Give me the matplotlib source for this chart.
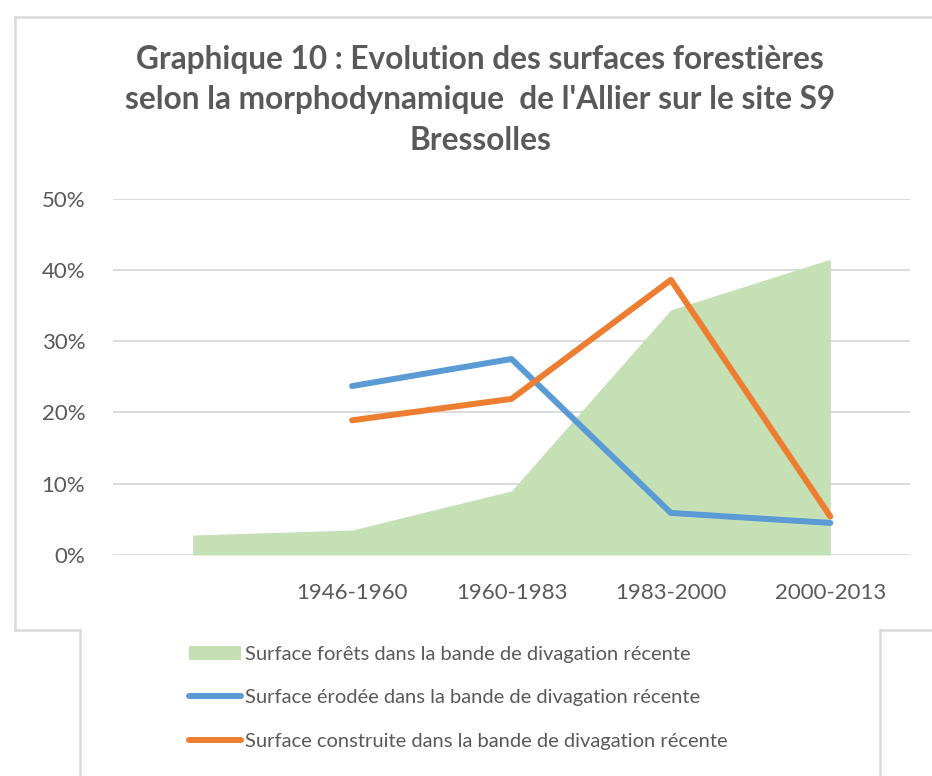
import matplotlib.pyplot as plt
from matplotlib.lines import Line2D
from matplotlib.patches import Rectangle

# Données (en %)
periodes = ["", "1946-1960", "1960-1983", "1983-2000", "2000-2013"]
forets = [2.8, 3.5, 9.0, 34.4, 41.5]
erodee = [None, 23.7, 27.5, 5.9, 4.5]
construite = [None, 18.9, 21.9, 38.6, 5.4]
yticks = [0, 10, 20, 30, 40, 50]

gris_txt = '#595959'
gris_ligne = '#d9d9d9'
police = 'Lato'

fig = plt.figure(figsize=(9.32, 7.76), dpi=100)
W, H = 932, 776

# cadre du graphique (bordures gris clair)
def fig_line(x0, y0, x1, y1):
    fig.add_artist(Line2D([x0 / W, x1 / W], [1 - y0 / H, 1 - y1 / H],
                          color=gris_ligne, lw=1.8, transform=fig.transFigure))

fig_line(15, 17, 932, 17)
fig_line(15, 17, 15, 630)
fig_line(15, 630, 80, 630)
fig_line(880, 630, 932, 630)
fig_line(80, 630, 80, 776)
fig_line(880, 630, 880, 776)

# titre
fig.text(480 / W, 1 - 100 / H,
         "Graphique 10 : Evolution des surfaces forestières\n"
         "selon la morphodynamique  de l'Allier sur le site S9\nBressolles",
         ha='center', va='center', fontsize=22.8, fontweight='bold',
         color=gris_txt, family=police, linespacing=1.5)

ax = fig.add_axes([113 / W, 1 - 555 / H, (910 - 113) / W, (555 - 198.6) / H])
x = list(range(len(periodes)))

ax.fill_between(x, forets, 0, color='#C5E0B4', lw=0, zorder=2,
                label="Surface forêts dans la bande de divagation récente")
xe = [i for i, v in zip(x, erodee) if v is not None]
ax.plot(xe, [v for v in erodee if v is not None], color='#5B9BD5', lw=4.3,
        solid_capstyle='round', solid_joinstyle='round', zorder=3,
        label="Surface érodée dans la bande de divagation récente")
xc = [i for i, v in zip(x, construite) if v is not None]
ax.plot(xc, [v for v in construite if v is not None], color='#ED7D31', lw=4.3,
        solid_capstyle='round', solid_joinstyle='round', zorder=4,
        label="Surface construite dans la bande de divagation récente")

ax.set_xlim(-0.5, 4.5)
ax.set_ylim(0, 50)
ax.set_yticks(yticks)
ax.set_yticklabels([f"{v}%" for v in yticks])
ax.set_xticks(x)
ax.set_xticklabels(periodes)
ax.grid(axis='y', color=gris_ligne, lw=1.3, zorder=1)
ax.set_axisbelow(True)
for s in ax.spines.values():
    s.set_visible(False)
ax.tick_params(length=0, colors=gris_txt, labelsize=16)
ax.tick_params(axis='y', pad=20)
ax.tick_params(axis='x', pad=20)
for t in ax.get_xticklabels() + ax.get_yticklabels():
    t.set_family(police)
    t.set_color(gris_txt)

# légende
fig.add_artist(Rectangle((81 / W, 0), (880 - 82) / W, 1 - 631 / H,
                         transform=fig.transFigure, facecolor='white',
                         edgecolor='none', zorder=0))
leg = fig.legend(loc='upper left', bbox_to_anchor=(171 / W, 1 - 628 / H),
                 frameon=False, ncol=1, labelspacing=1.3,
                 handlelength=2.6, handletextpad=0.15,
                 prop={'family': police, 'size': 14.5})
for t in leg.get_texts():
    t.set_color(gris_txt)

fig.savefig('out.png', dpi=100)
